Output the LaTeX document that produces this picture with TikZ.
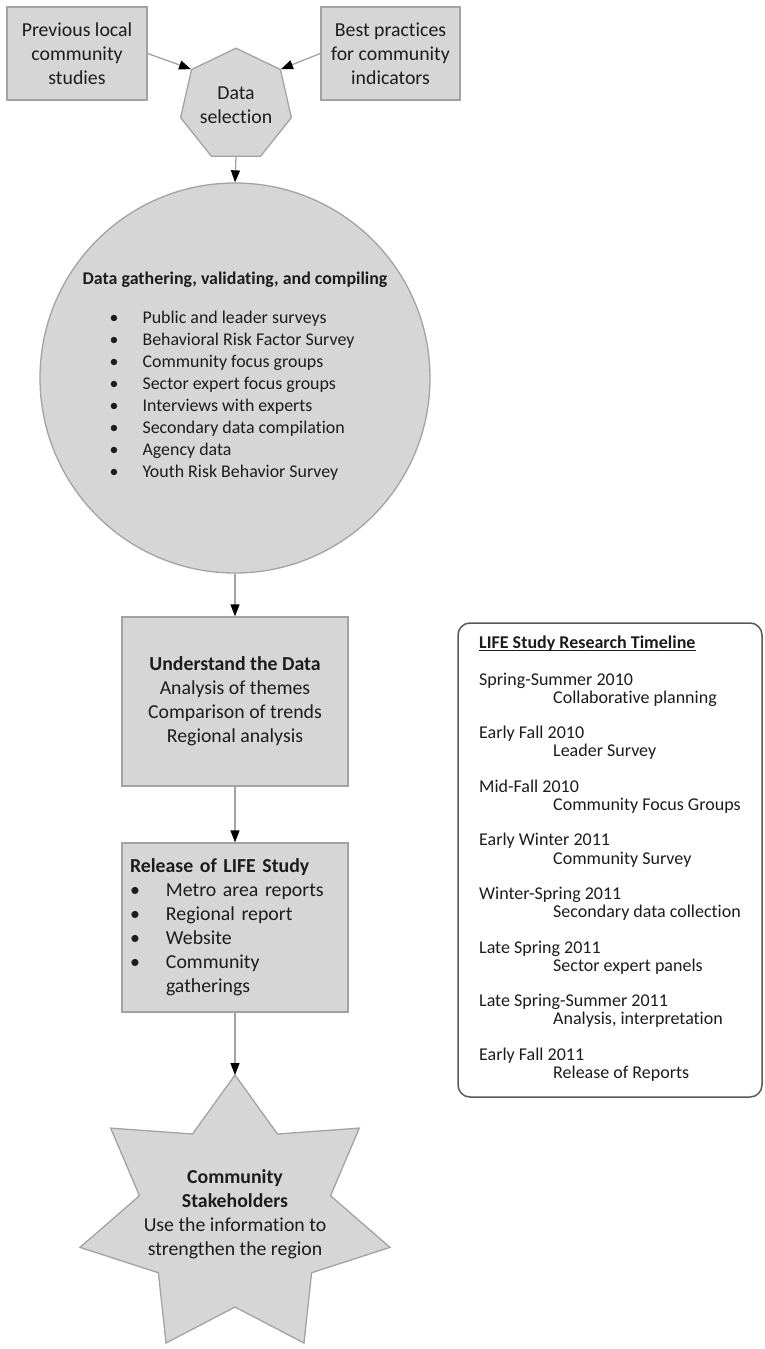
\documentclass[tikz,border=0pt]{standalone}
\usepackage{fontspec}
\setmainfont{Carlito}[Ligatures={NoCommon}]
\usetikzlibrary{arrows.meta,shapes.geometric}
\definecolor{boxfill}{HTML}{D6D6D6}
\definecolor{boxline}{HTML}{A3A3A3}
\definecolor{ink}{HTML}{1C1C1C}
\definecolor{frame}{HTML}{595959}
\newcommand\bul{\makebox[36pt][l]{\textbullet}}
\newcommand\cbul{\makebox[33pt][l]{\textbullet}}

\begin{document}
\begin{tikzpicture}[x=1pt,y=-1pt,
  every node/.style={text=ink},
  graybox/.style={draw=boxline, fill=boxfill, line width=1.3pt, inner sep=0pt},
  link/.style={draw=boxline, line width=1.3pt,
    -{Triangle[length=12pt,width=9pt,color=black,fill=black]}},
  maintext/.style={font=\fontsize{19.8}{24}\selectfont, align=center},
  tltext/.style={font=\fontsize{18}{18.3}\selectfont, inner sep=0pt},
]
\fill[white] (0,0) rectangle (764,1349);
\useasboundingbox (0,0) rectangle (764,1349);

% sources and selection
\node[graybox, maintext, minimum width=140pt, minimum height=93pt] (prev) at (77,53.5)
  {Previous local\\community\\studies};
\node[graybox, maintext, minimum width=139pt, minimum height=93pt] (best) at (390.5,53.5)
  {Best practices\\for community\\indicators};
\node[graybox, maintext, regular polygon, regular polygon sides=7, minimum size=104pt]
  (select) at (236,105) {Data\\selection};

% data gathering circle
\node[graybox, circle, minimum size=390pt, font=\fontsize{17.9}{22}\selectfont, align=center]
  (gather) at (235,378)
  {\textbf{Data gathering, validating, and compiling}\\[20pt]
   \hspace*{-6pt}\begin{tabular}{@{}l@{}l@{}}
   \cbul & Public and leader surveys\\
   \cbul & Behavioral Risk Factor Survey\\
   \cbul & Community focus groups\\
   \cbul & Sector expert focus groups\\
   \cbul & Interviews with experts\\
   \cbul & Secondary data compilation\\
   \cbul & Agency data\\
   \cbul & Youth Risk Behavior Survey
   \end{tabular}};

% analysis and release
\node[graybox, maintext, minimum width=226pt, minimum height=169pt] (understand) at (235,701.5)
  {\textbf{Understand the Data}\\Analysis of themes\\Comparison of trends\\Regional analysis};
\node[graybox, font=\fontsize{19.8}{24}\selectfont, minimum width=226pt, minimum height=169pt,
  text width=210pt, inner xsep=8pt, align=left] (release) at (235,927.5)
  {\textbf{Release of LIFE Study}\\
   \bul Metro area reports\\
   \bul Regional report\\
   \bul Website\\
   \bul Community\\
   \hspace*{36pt}gatherings};

% stakeholder star
\def\scx{235}
\def\scy{1216}
\coordinate (startop) at (\scx,\scy-141);
\begin{scope}
\clip (0,0) rectangle (764,1349);
\draw[draw=boxline, fill=boxfill, line width=1.3pt] (startop)
  \foreach \k in {0,...,6} {
    -- ({\scx+98*cos(90+\k*360/7+180/7)},{\scy-91*sin(90+\k*360/7+180/7)})
    -- ({\scx+159*cos(90+(\k+1)*360/7)},{\scy-141*sin(90+(\k+1)*360/7)})
  } -- cycle;
\end{scope}
\node[maintext] (stake) at (\scx,1214.5)
  {\textbf{Community}\\\textbf{Stakeholders}\\Use the information to\\strengthen the region};

% connectors
\draw[link] (prev.east) -- (select.corner 2);
\draw[link] (best.west) -- (select.corner 7);
\draw[link] (select.south) -- (gather.north);
\draw[link] (gather.south) -- (understand.north);
\draw[link] (understand.south) -- (release.north);
\draw[link] (release.south) -- (startop);

% research timeline
\node[draw=frame, fill=white, line width=1.5pt, rounded corners=12pt, inner sep=0pt,
  minimum width=304pt, minimum height=474pt] (timeline) at (610,860) {};
\node[tltext, font=\fontsize{18}{18.3}\selectfont\bfseries, anchor=base west]
  (tltitle) at (479,648) {LIFE Study Research Timeline};
\draw[ink, line width=1pt] ([yshift=-2.5pt]tltitle.base west) -- ([yshift=-2.5pt]tltitle.base east);
\foreach \d/\e [count=\i from 0] in {
  Spring-Summer 2010/Collaborative planning,
  Early Fall 2010/Leader Survey,
  Mid-Fall 2010/Community Focus Groups,
  Early Winter 2011/Community Survey,
  Winter-Spring 2011/Secondary data collection,
  Late Spring 2011/Sector expert panels,
  Late Spring-Summer 2011/{Analysis, interpretation},
  Early Fall 2011/Release of Reports}
{
  \node[tltext, anchor=base west] (date\i) at (479,685+53.6*\i) {\d};
  \node[tltext, anchor=base west] (event\i) at (553,703.3+53.6*\i) {\e};
}
\end{tikzpicture}
\end{document}
